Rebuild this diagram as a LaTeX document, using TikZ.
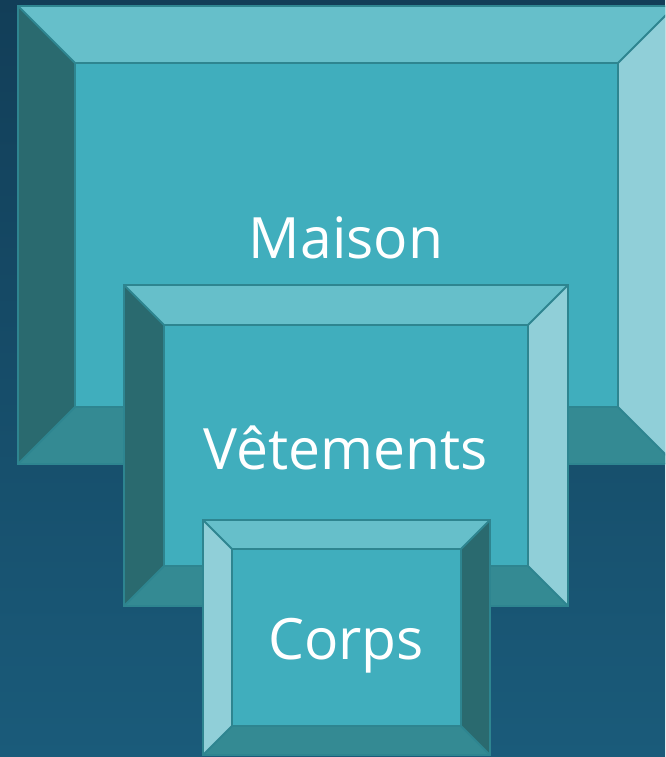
\documentclass[tikz,border=0pt]{standalone}
\usepackage{fontspec}
\setmainfont{Open Sans}
\definecolor{bgtop}{HTML}{123E58}
\definecolor{bgbot}{HTML}{1A5B7A}
\definecolor{face}{HTML}{40AEBD}
\definecolor{bevtop}{HTML}{66BFCA}
\definecolor{bevlight}{HTML}{90CFD8}
\definecolor{bevbot}{HTML}{348A93}
\definecolor{bevdark}{HTML}{2A6A6F}
\definecolor{edge}{HTML}{2E8590}
\tikzset{
  edgeline/.style={draw=edge, line width=2pt, line join=miter},
  label/.style={text=white, font=\fontsize{57}{60}\selectfont, anchor=base, inner sep=0pt}
}
% #1 x1, #2 y1, #3 x2, #4 y2, #5 bevel, #6 left colour, #7 right colour
\newcommand{\bevbox}[7]{%
  \fill[face] (#1,#2) rectangle (#3,#4);
  \fill[bevtop] (#1,#2) -- (#3,#2) -- ({#3-#5},{#2+#5}) -- ({#1+#5},{#2+#5}) -- cycle;
  \fill[bevbot] (#1,#4) -- (#3,#4) -- ({#3-#5},{#4-#5}) -- ({#1+#5},{#4-#5}) -- cycle;
  \fill[#6] (#1,#2) -- ({#1+#5},{#2+#5}) -- ({#1+#5},{#4-#5}) -- (#1,#4) -- cycle;
  \fill[#7] (#3,#2) -- ({#3-#5},{#2+#5}) -- ({#3-#5},{#4-#5}) -- (#3,#4) -- cycle;
  \draw[edgeline] (#1,#2) rectangle (#3,#4);
  \draw[edgeline] ({#1+#5},{#2+#5}) rectangle ({#3-#5},{#4-#5});
  \draw[edgeline] (#1,#2) -- ({#1+#5},{#2+#5});
  \draw[edgeline] (#3,#2) -- ({#3-#5},{#2+#5});
  \draw[edgeline] (#1,#4) -- ({#1+#5},{#4-#5});
  \draw[edgeline] (#3,#4) -- ({#3-#5},{#4-#5});
}
\begin{document}
\begin{tikzpicture}[x=1pt,y=-1pt]
\useasboundingbox (0,0) rectangle (665,757);
\clip (0,0) rectangle (665,757);
\shade[top color=bgtop, bottom color=bgbot] (0,0) rectangle (665,757);
\bevbox{18}{6}{675}{464}{57}{bevdark}{bevlight}
\node[label] (maison) at (346,258) {Maison};
\bevbox{124}{285}{568}{606}{40}{bevdark}{bevlight}
\node[label] (vetements) at (346,469) {Vêtements};
\bevbox{203}{520}{490}{755}{29}{bevlight}{bevdark}
\node[label] (corps) at (346,659) {Corps};
\end{tikzpicture}
\end{document}
